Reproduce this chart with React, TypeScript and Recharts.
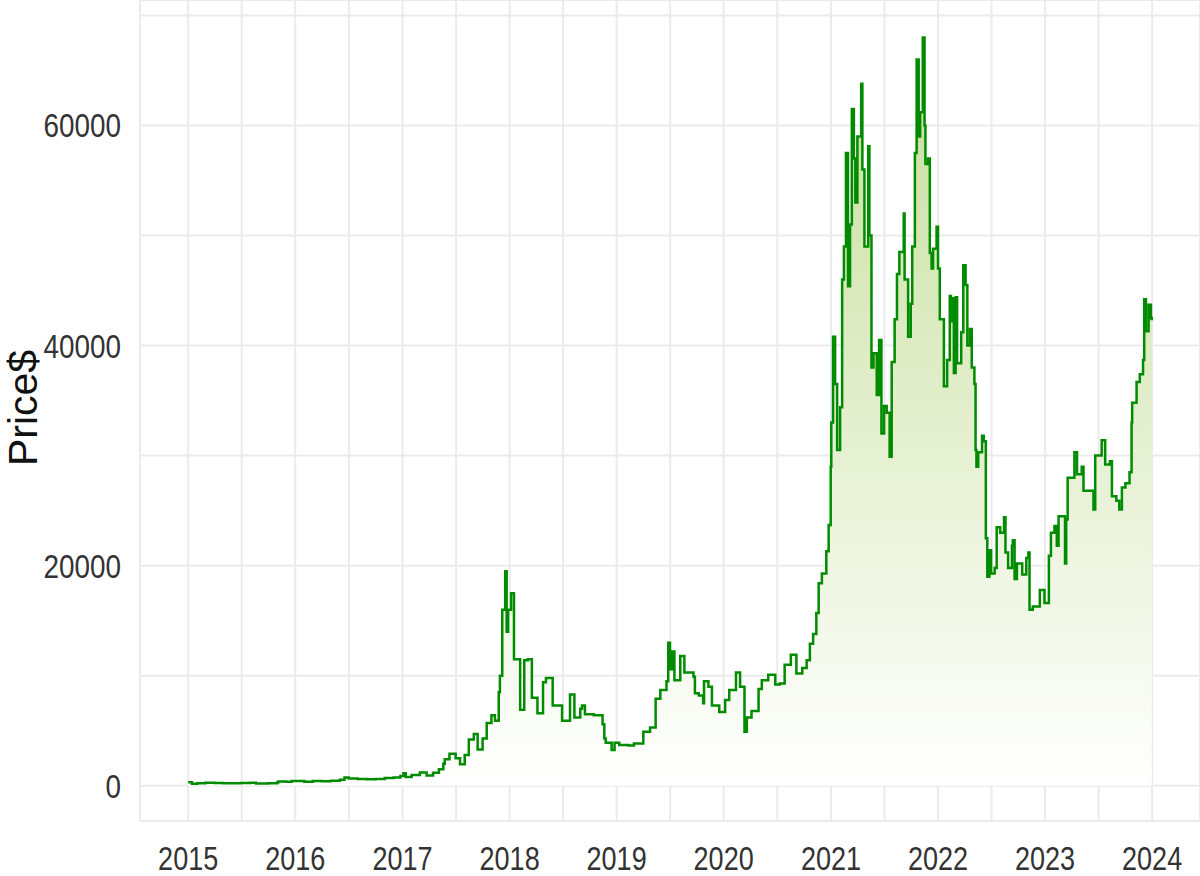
import { AreaChart, Area, XAxis, YAxis, CartesianGrid, Label } from "recharts";

const dates = [
  // 2015
  "2015-01-01", "2015-01-14", "2015-02-01", "2015-03-01", "2015-04-01", "2015-05-01", "2015-06-01", "2015-07-01",
  "2015-08-01", "2015-08-20", "2015-10-01", "2015-11-01", "2015-11-05", "2015-12-01", "2015-12-20",
  // 2016
  "2016-01-01", "2016-02-01", "2016-03-01", "2016-04-01", "2016-05-01", "2016-06-01", "2016-06-17", "2016-07-01",
  "2016-08-01", "2016-09-01", "2016-10-01", "2016-11-01", "2016-12-01", "2016-12-25",
  // 2017
  "2017-01-04", "2017-01-12", "2017-02-01", "2017-03-01", "2017-03-24", "2017-04-15", "2017-05-05", "2017-05-20",
  "2017-05-25", "2017-06-10", "2017-07-01", "2017-07-16", "2017-08-01", "2017-08-15", "2017-09-01", "2017-09-14",
  "2017-10-01", "2017-10-15", "2017-10-31", "2017-11-12", "2017-11-25", "2017-11-29", "2017-12-07", "2017-12-17",
  "2017-12-22", "2017-12-27",
  // 2018
  "2018-01-06", "2018-01-16", "2018-01-28", "2018-02-06", "2018-02-20", "2018-03-04", "2018-03-18", "2018-04-06",
  "2018-04-25", "2018-05-05", "2018-05-28", "2018-06-29", "2018-07-26", "2018-08-10", "2018-08-30", "2018-09-05",
  "2018-09-15", "2018-10-15", "2018-11-14", "2018-11-20", "2018-11-25", "2018-12-15", "2018-12-25",
  // 2019
  "2019-01-10", "2019-02-10", "2019-03-01", "2019-04-02", "2019-04-25", "2019-05-14", "2019-05-30", "2019-06-20",
  "2019-06-26", "2019-07-02", "2019-07-10", "2019-07-17", "2019-08-06", "2019-08-20", "2019-09-20", "2019-09-25",
  "2019-10-08", "2019-10-23", "2019-10-26", "2019-11-10", "2019-11-22", "2019-12-17",
  // 2020
  "2020-01-06", "2020-01-20", "2020-02-12", "2020-02-26", "2020-03-12", "2020-03-20", "2020-04-05", "2020-04-29",
  "2020-05-10", "2020-06-01", "2020-06-25", "2020-07-10", "2020-07-27", "2020-08-17", "2020-09-05", "2020-09-25",
  "2020-10-10", "2020-10-21", "2020-11-01", "2020-11-12", "2020-11-20", "2020-12-01", "2020-12-16", "2020-12-24",
  "2020-12-31",
  // 2021
  "2021-01-02", "2021-01-08", "2021-01-15", "2021-01-22", "2021-02-01", "2021-02-08", "2021-02-14", "2021-02-21",
  "2021-02-28", "2021-03-07", "2021-03-13", "2021-03-20", "2021-03-25", "2021-04-01", "2021-04-14", "2021-04-18",
  "2021-04-25", "2021-05-08", "2021-05-12", "2021-05-19", "2021-05-26", "2021-06-06", "2021-06-14", "2021-06-22",
  "2021-07-01", "2021-07-10", "2021-07-20", "2021-07-27", "2021-08-06", "2021-08-14", "2021-08-22", "2021-09-06",
  "2021-09-09", "2021-09-21", "2021-09-30", "2021-10-05", "2021-10-14", "2021-10-20", "2021-10-27", "2021-11-01",
  "2021-11-10", "2021-11-16", "2021-11-19", "2021-11-28", "2021-12-04", "2021-12-10", "2021-12-15", "2021-12-27",
  // 2022
  "2022-01-01", "2022-01-07", "2022-01-21", "2022-02-01", "2022-02-10", "2022-02-14", "2022-02-16", "2022-02-24",
  "2022-03-02", "2022-03-07", "2022-03-21", "2022-03-28", "2022-04-05", "2022-04-11", "2022-04-20", "2022-04-26",
  "2022-05-05", "2022-05-09", "2022-05-12", "2022-05-18", "2022-05-31", "2022-06-06", "2022-06-13", "2022-06-18",
  "2022-06-25", "2022-07-01", "2022-07-13", "2022-07-20", "2022-08-01", "2022-08-14", "2022-08-19", "2022-08-28",
  "2022-09-10", "2022-09-13", "2022-09-19", "2022-09-27", "2022-10-15", "2022-10-29", "2022-11-05", "2022-11-09",
  "2022-11-20", "2022-12-14", "2022-12-30",
  // 2023
  "2023-01-14", "2023-01-21", "2023-02-02", "2023-02-10", "2023-02-16", "2023-03-10", "2023-03-14", "2023-03-19",
  "2023-04-11", "2023-04-20", "2023-05-06", "2023-05-12", "2023-06-15", "2023-06-21", "2023-07-13", "2023-07-25",
  "2023-08-10", "2023-08-17", "2023-09-01", "2023-09-11", "2023-09-20", "2023-10-02", "2023-10-16", "2023-10-23",
  "2023-10-25", "2023-11-09", "2023-11-20", "2023-12-01", "2023-12-05", "2023-12-11", "2023-12-20", "2023-12-28",
  "2023-12-31",
];

// closing price in $, same order as dates
const prices = [
  // 2015
  315, 180, 230, 270, 245, 235, 225, 260, 280, 210, 240, 320, 400, 360, 440,
  // 2016
  430, 370, 430, 420, 450, 540, 750, 670, 620, 600, 610, 700, 750, 900,
  // 2017
  1130, 800, 970, 1200, 930, 1180, 1500, 2000, 2400, 2900, 2500, 1950, 2800, 4200, 4700, 3300,
  4300, 5700, 6400, 5900, 8500, 10000, 16000, 19500, 14000, 16000,
  // 2018
  17500, 11500, 11500, 6900, 11400, 11500, 8000, 6600, 9400, 9800, 7300, 5900, 8300, 6200, 7000, 7300,
  6500, 6400, 5600, 4300, 3900, 3250, 3900,
  // 2019
  3700, 3650, 3850, 4900, 5300, 7900, 8700, 9500, 13000, 10600, 12200, 9600, 11800, 10300, 9900, 8400,
  8200, 7500, 9500, 9000, 7300, 6700,
  // 2020
  7800, 8700, 10300, 9000, 4900, 6200, 6800, 8800, 9600, 10100, 9200, 9300, 11000, 11900, 10200, 10700,
  11400, 12900, 13800, 15700, 18400, 19300, 21300, 23700, 29000,
  // 2021
  33000, 40800, 36500, 30500, 34400, 46000, 49000, 57500, 45400, 51000, 61500, 57000, 53000, 59000, 63800, 56000,
  49000, 58100, 50000, 38000, 39300, 35500, 40500, 32000, 34500, 33900, 29900, 38500, 42400, 46500, 48500, 52000,
  46000, 40800, 43800, 49000, 57500, 66000, 59000, 61200, 68000, 60000, 56500, 57000, 48400, 47000, 48800, 50800,
  // 2022
  47000, 42400, 36300, 38700, 44500, 42200, 44300, 37500, 44400, 38400, 41200, 47300, 45500, 40000, 41500, 38000,
  36500, 30500, 29000, 30300, 31800, 31300, 22500, 19000, 21400, 19300, 19800, 23500, 23000, 24400, 21200, 19800,
  21800, 22300, 18800, 20200, 19200, 20700, 21200, 16000, 16300, 17800, 16600,
  // 2023
  20900, 23000, 23600, 21800, 24500, 20200, 24200, 28000, 30300, 28300, 29000, 26800, 25100, 30000, 31400, 29200,
  29500, 26300, 25900, 25100, 27100, 27500, 28500, 33000, 34800, 36700, 37400, 38700, 44200, 41300, 43700, 42500,
  42300,
];

const years = [2015, 2016, 2017, 2018, 2019, 2020, 2021, 2022, 2023, 2024];
const priceTicks = [0, 10000, 20000, 30000, 40000, 50000, 60000, 70000];
const labelledPrices = [0, 20000, 40000, 60000];

const toTime = (d: string) => Date.parse(d + "T00:00:00Z");

const n = Math.min(dates.length, prices.length);
const data = dates.slice(0, n).map((d, i) => ({ t: toTime(d), price: prices[i] }));

// year breaks plus ggplot-style minor breaks halfway between them
const majorTicks = years.map((y) => Date.UTC(y, 0, 1));
const minorTicks = majorTicks.slice(1).map((t, i) => (t + majorTicks[i]) / 2);
const xTicks = [...majorTicks, ...minorTicks].sort((a, b) => a - b);

const tMin = data[0].t;
const tMax = data[data.length - 1].t;
const pad = (tMax - tMin) * 0.05;
const xDomain = [tMin - pad, tMax + pad];

const FONT = "'Liberation Sans', Arial, sans-serif";
const NARROW = 0.82; // squeeze to look like Arial Narrow

function XTick(props: any) {
  const { x, y, payload } = props;
  if (!majorTicks.includes(payload.value)) return <g />;
  return (
    <text
      transform={`translate(${x},${y}) scale(${NARROW},1)`}
      textAnchor="middle"
      dy={22}
      fontSize={33}
      fontFamily={FONT}
      fill="#333"
    >
      {new Date(payload.value).getUTCFullYear()}
    </text>
  );
}

function YTick(props: any) {
  const { x, y, payload } = props;
  if (!labelledPrices.includes(payload.value)) return <g />;
  return (
    <text
      transform={`translate(${x},${y}) scale(${NARROW},1)`}
      textAnchor="end"
      dy={12}
      fontSize={34}
      fontFamily={FONT}
      fill="#333"
    >
      {payload.value}
    </text>
  );
}

function PriceLabel() {
  return (
    <text
      transform="translate(37,408) rotate(-90)"
      textAnchor="middle"
      fontSize={41}
      fontFamily={FONT}
      fill="#111"
    >
      Price$
    </text>
  );
}

export default function App() {
  return (
    <div style={{ width: 1200, height: 876 }}>
      <style>{"body{margin:0}"}</style>
      <AreaChart width={1200} height={876} data={data} margin={{ top: 0, right: 0, bottom: 0, left: 0 }}>
        <defs>
          <linearGradient id="priceFill" x1="0" y1="0" x2="0" y2="1">
            <stop offset="0%" stopColor="#c6de9a" />
            <stop offset="100%" stopColor="#ffffff" />
          </linearGradient>
        </defs>
        <CartesianGrid stroke="#ebebeb" strokeWidth={2} />
        <XAxis
          dataKey="t"
          type="number"
          domain={xDomain}
          allowDataOverflow
          ticks={xTicks}
          interval={0}
          axisLine={false}
          tickLine={false}
          tickSize={0}
          tickMargin={27}
          height={55}
          tick={<XTick />}
        />
        <YAxis
          type="number"
          domain={[-3200, 71400]}
          allowDataOverflow
          ticks={priceTicks}
          interval={0}
          axisLine={false}
          tickLine={false}
          tickSize={0}
          tickMargin={19}
          width={140}
          tick={<YTick />}
        >
          <Label content={<PriceLabel />} />
        </YAxis>
        <Area
          type="stepAfter"
          dataKey="price"
          stroke="#008b00"
          strokeWidth={2.5}
          fill="url(#priceFill)"
          fillOpacity={1}
          dot={false}
          activeDot={false}
          isAnimationActive={false}
        />
      </AreaChart>
    </div>
  );
}
